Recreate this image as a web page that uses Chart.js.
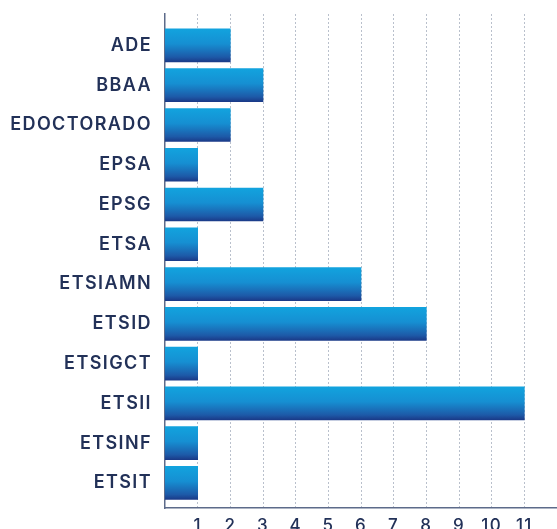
<!DOCTYPE html>
<html>
<head>
<meta charset="utf-8">
<script src="https://cdn.jsdelivr.net/npm/chart.js@4"></script>
<style>
  html, body { margin: 0; padding: 0; background: #fff; }
  #wrap { width: 557px; height: 529px; }
</style>
</head>
<body>
<div id="wrap"><canvas id="myChart" width="557" height="529"></canvas></div>
<script>
const schools = ["ADE", "BBAA", "EDOCTORADO", "EPSA", "EPSG", "ETSA", "ETSIAMN", "ETSID", "ETSIGCT", "ETSII", "ETSINF", "ETSIT"];
const counts = [2, 3, 2, 1, 3, 1, 6, 8, 1, 11, 1, 1];
const xTicks = [1, 2, 3, 4, 5, 6, 7, 8, 9, 10, 11];

const ink = "#223158";

function barFill(ctx) {
  const chart = ctx.chart;
  const y = chart.scales && chart.scales.y;
  if (!chart.chartArea || !y || ctx.dataIndex === undefined) return "#1a8fd0";
  const c = y.getPixelForValue(ctx.dataIndex);
  const g = chart.ctx.createLinearGradient(0, c - 16.5, 0, c + 16.5);
  g.addColorStop(0, "#12a3de");
  g.addColorStop(0.45, "#168fd2");
  g.addColorStop(0.85, "#1d5aa8");
  g.addColorStop(1, "#1a3a88");
  return g;
}

// wider lettering, closer to the original typeface
const spacing = {
  id: "spacing",
  beforeDraw: (chart) => { chart.ctx.letterSpacing = "1.4px"; }
};

new Chart(document.getElementById("myChart"), {
  type: "bar",
  data: {
    datasets: [
      {
        data: counts.map((v, i) => ({ x: v, y: i })),
        backgroundColor: barFill,
        barThickness: 33,
        borderWidth: 0
      }
    ]
  },
  plugins: [spacing],
  options: {
    indexAxis: "y",
    responsive: false,
    animation: false,
    layout: { padding: { top: 14, right: 0, left: 0, bottom: 0 } },
    plugins: { legend: { display: false }, tooltip: { enabled: false } },
    scales: {
      x: {
        type: "linear",
        min: 0,
        max: 12,
        offset: false,
        afterBuildTicks: (s) => { s.ticks = xTicks.map((v) => ({ value: v })); },
        afterFit: (s) => { s.height = 21; s.paddingLeft = 0; s.paddingRight = 0; },
        grid: { color: "#b9c0cc", lineWidth: 1, drawTicks: false },
        border: { display: true, color: "#5d6b8a", width: 1.5, dash: [2, 2] },
        ticks: {
          padding: 8,
          color: ink,
          font: { family: "Inter", size: 17, weight: "500" }
        }
      },
      y: {
        type: "linear",
        reverse: true,
        offset: false,
        min: -0.79,
        max: 11.63,
        afterBuildTicks: (s) => { s.ticks = schools.map((_, i) => ({ value: i })); },
        afterFit: (s) => { s.width = 165; s.paddingTop = 0; s.paddingBottom = 0; },
        grid: { display: false, drawTicks: false, offset: false },
        border: { display: true, color: "#5d6b8a", width: 1.5 },
        ticks: {
          padding: 13,
          color: ink,
          font: { family: "Inter", size: 18, weight: "600" },
          callback: (v) => schools[v]
        }
      }
    }
  }
});
</script>
</body>
</html>
